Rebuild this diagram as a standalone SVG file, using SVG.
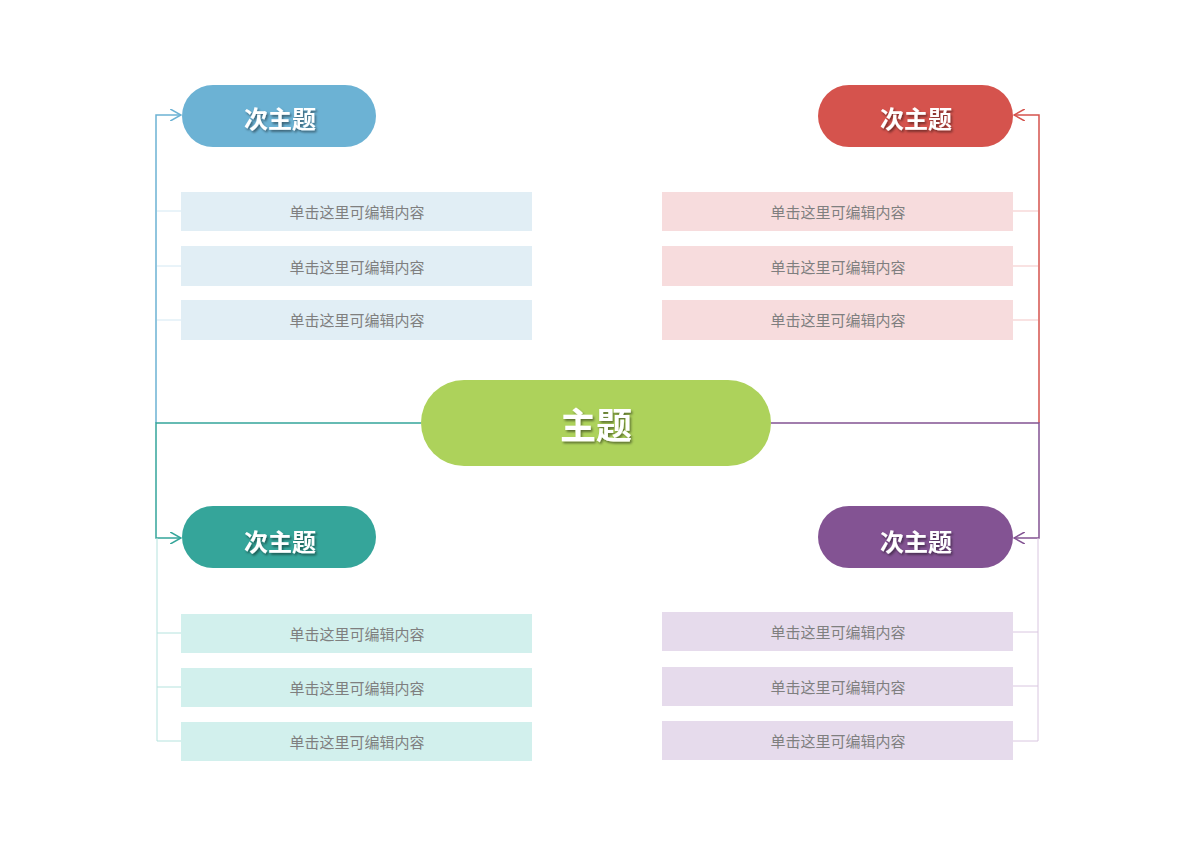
<svg xmlns="http://www.w3.org/2000/svg" width="1200" height="848" viewBox="0 0 1200 848">
<defs>
<style>
.t{font-family:"Noto Sans CJK SC","Noto Sans CJK TC",sans-serif;font-weight:bold;fill:#fff;text-anchor:middle;dominant-baseline:central}
.c{font-family:"Noto Sans CJK SC",sans-serif;font-size:15px;fill:#7f7f7f;text-anchor:middle;dominant-baseline:central}
.l{fill:none;stroke-width:1.5}
</style>
<filter id="sh" x="-20%" y="-20%" width="140%" height="140%"><feDropShadow dx="1.5" dy="2" stdDeviation="0.8" flood-color="#000" flood-opacity="0.45"/></filter>
<marker id="ab" viewBox="0 0 10 10" refX="9" refY="5" markerWidth="8" markerHeight="8" orient="auto"><path d="M0,0 L9,5 L0,10" fill="none" stroke="#6cb2d4" stroke-width="1.3"/></marker>
<marker id="ar" viewBox="0 0 10 10" refX="9" refY="5" markerWidth="8" markerHeight="8" orient="auto"><path d="M0,0 L9,5 L0,10" fill="none" stroke="#d5534d" stroke-width="1.3"/></marker>
<marker id="at" viewBox="0 0 10 10" refX="9" refY="5" markerWidth="8" markerHeight="8" orient="auto"><path d="M0,0 L9,5 L0,10" fill="none" stroke="#35a59a" stroke-width="1.3"/></marker>
<marker id="ap" viewBox="0 0 10 10" refX="9" refY="5" markerWidth="8" markerHeight="8" orient="auto"><path d="M0,0 L9,5 L0,10" fill="none" stroke="#835393" stroke-width="1.3"/></marker>
</defs>
<rect width="1200" height="848" fill="#fff"/>
<g id="connectors">
<path class="l" d="M156,423 V115 H181" stroke="#6cb2d4" marker-end="url(#ab)"/>
<path class="l" d="M421,423 H156 V538 H181" stroke="#35a59a" marker-end="url(#at)"/>
<path class="l" d="M1039,423 V115 H1014" stroke="#d5534d" marker-end="url(#ar)"/>
<path class="l" d="M771,423 H1039 V538 H1014" stroke="#835393" marker-end="url(#ap)"/>
<g stroke="#d3e8f3" stroke-width="1" fill="none"><path d="M157,211 H181 M157,266 H181 M157,320 H181"/></g>
<g stroke="#f3c5c5" stroke-width="1" fill="none"><path d="M1038,211 H1013 M1038,266 H1013 M1038,320 H1013"/></g>
<g stroke="#b5e3de" stroke-width="1" fill="none"><path d="M157,538 V741 M157,633 H181 M157,687 H181 M157,741 H181"/></g>
<g stroke="#d9c6e0" stroke-width="1" fill="none"><path d="M1038,538 V741 M1038,632 H1013 M1038,686 H1013 M1038,741 H1013"/></g>
</g>
<g id="main"><rect x="421" y="380" width="350" height="86" rx="43" fill="#add25b"/><text class="t" x="596" y="423" font-size="36" filter="url(#sh)">主题</text></g>
<g id="sub-tl"><rect x="182" y="85" width="194" height="62" rx="31" fill="#6cb2d4"/><text class="t" x="280" y="117" font-size="24" filter="url(#sh)">次主题</text></g>
<g id="sub-tr"><rect x="818" y="85" width="195" height="62" rx="31" fill="#d5534d"/><text class="t" x="916" y="117" font-size="24" filter="url(#sh)">次主题</text></g>
<g id="sub-bl"><rect x="182" y="506" width="194" height="62" rx="31" fill="#35a59a"/><text class="t" x="280" y="540" font-size="24" filter="url(#sh)">次主题</text></g>
<g id="sub-br"><rect x="818" y="506" width="195" height="62" rx="31" fill="#835393"/><text class="t" x="916" y="540" font-size="24" filter="url(#sh)">次主题</text></g>
<g id="items-tl" fill="#e1eef5">
<rect x="181" y="192" width="351" height="39"/><text class="c" x="357" y="211">单击这里可编辑内容</text>
<rect x="181" y="246" width="351" height="40"/><text class="c" x="357" y="266">单击这里可编辑内容</text>
<rect x="181" y="300" width="351" height="40"/><text class="c" x="357" y="319">单击这里可编辑内容</text>
</g>
<g id="items-tr" fill="#f7dcdd">
<rect x="662" y="192" width="351" height="39"/><text class="c" x="838" y="211">单击这里可编辑内容</text>
<rect x="662" y="246" width="351" height="40"/><text class="c" x="838" y="266">单击这里可编辑内容</text>
<rect x="662" y="300" width="351" height="40"/><text class="c" x="838" y="319">单击这里可编辑内容</text>
</g>
<g id="items-bl" fill="#d2f0ed">
<rect x="181" y="614" width="351" height="39"/><text class="c" x="357" y="633">单击这里可编辑内容</text>
<rect x="181" y="668" width="351" height="39"/><text class="c" x="357" y="687">单击这里可编辑内容</text>
<rect x="181" y="722" width="351" height="39"/><text class="c" x="357" y="741">单击这里可编辑内容</text>
</g>
<g id="items-br" fill="#e6dbec">
<rect x="662" y="612" width="351" height="39"/><text class="c" x="838" y="631">单击这里可编辑内容</text>
<rect x="662" y="667" width="351" height="39"/><text class="c" x="838" y="686">单击这里可编辑内容</text>
<rect x="662" y="721" width="351" height="39"/><text class="c" x="838" y="740">单击这里可编辑内容</text>
</g>
</svg>
